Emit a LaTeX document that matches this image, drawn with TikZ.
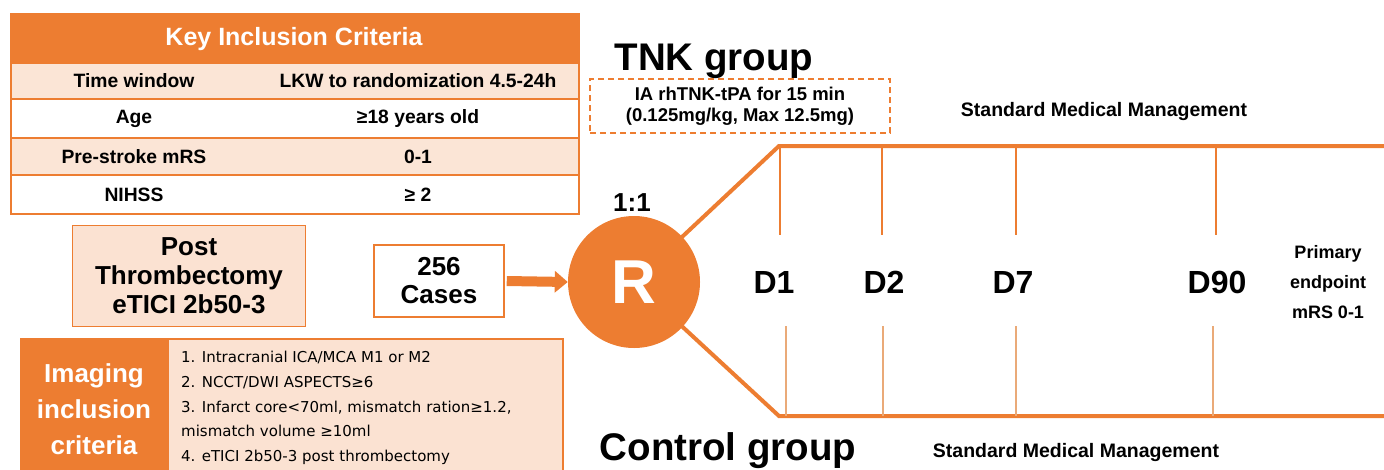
\documentclass[tikz,border=0pt]{standalone}
\usepackage{fontspec}
\setmainfont{Liberation Sans}
\newfontfamily\listfont{DejaVu Sans}
\usetikzlibrary{arrows.meta}
\definecolor{org}{HTML}{ED7D31}
\definecolor{peach}{HTML}{FBE5D6}
\definecolor{peachb}{HTML}{FBE2D2}
\definecolor{ticklight}{HTML}{EAAA78}
\tikzset{
  cell/.style={draw=org, line width=1.5pt, minimum width=568pt, inner sep=0pt, anchor=north west},
  rowtxt/.style={font=\bfseries\fontsize{19.3}{22}\selectfont, inner sep=0pt},
  bigtxt/.style={font=\bfseries\fontsize{38.5}{44}\selectfont, inner sep=0pt},
  dtxt/.style={font=\bfseries\fontsize{32}{36}\selectfont, inner sep=0pt},
  smm/.style={font=\bfseries\fontsize{19.5}{22}\selectfont, inner sep=0pt},
  thick line/.style={draw=org, line width=4pt},
  tickline/.style={draw=org, line width=1.3pt},
  ticklineb/.style={draw=ticklight, line width=1.3pt},
}
\begin{document}
\begin{tikzpicture}[x=1pt,y=-1pt]
\useasboundingbox (0,0) rectangle (1384,469);

% ---------- Key inclusion criteria table ----------
\node[cell, fill=org, minimum height=49pt] (hdr) at (10,13) {};
\node[cell, fill=peach, minimum height=36pt] (r1) at (10,62) {};
\node[cell, fill=white, minimum height=39pt] (r2) at (10,98) {};
\node[cell, fill=peach, minimum height=37pt] (r3) at (10,137) {};
\node[cell, fill=white, minimum height=39pt] (r4) at (10,174) {};
\node[font=\bfseries\fontsize{25}{28}\selectfont, text=white, inner sep=0pt] (hdrt) at (294,39) {Key Inclusion Criteria};
\node[rowtxt] (t1a) at (134,81) {Time window};
\node[rowtxt] (t1b) at (418,81) {LKW to randomization 4.5-24h};
\node[rowtxt] (t2a) at (134,119) {Age};
\node[rowtxt] (t2b) at (418,119) {≥18 years old};
\node[rowtxt] (t3a) at (134,157) {Pre-stroke mRS};
\node[rowtxt] (t3b) at (418,157) {0-1};
\node[rowtxt] (t4a) at (134,195) {NIHSS};
\node[rowtxt] (t4b) at (418,195) {≥ 2};

% ---------- Post thrombectomy ----------
\node[draw=org, line width=1.5pt, fill=peachb, minimum width=233pt, minimum height=101pt,
      align=center, inner sep=0pt, font=\bfseries\fontsize{26}{29}\selectfont] (post) at (189,276)
      {Post\\Thrombectomy\\eTICI 2b50-3};

% ---------- 256 cases ----------
\node[draw=org, line width=1.5pt, fill=white, minimum width=130pt, minimum height=72pt,
      align=center, inner sep=0pt, font=\bfseries\fontsize{26}{28}\selectfont] (cases) at (439,281)
      {256\\Cases};

% ---------- branches (behind circle) ----------
\coordinate (c) at (634,282);
\coordinate (tc) at (779,146);
\coordinate (te) at (1386,146);
\coordinate (bc) at (779,416);
\coordinate (be) at (1386,416);
\draw[thick line] (c) -- (tc) -- (te);
\draw[thick line] (c) -- (bc) -- (be);

% tick lines
\foreach \n/\x in {1/780,2/882,3/1016,4/1216}{
  \coordinate (ta\n) at (\x,146);
  \coordinate (tb\n) at (\x,235);
  \draw[tickline] (ta\n) -- (tb\n);
}
\foreach \n/\x in {1/786,2/883,3/1016,4/1213}{
  \coordinate (ba\n) at (\x,326);
  \coordinate (bb\n) at (\x,416);
  \draw[ticklineb] (ba\n) -- (bb\n);
}

% ---------- R circle ----------
\node[circle, fill=org, minimum size=132pt, inner sep=0pt, text=white,
      font=\bfseries\fontsize{62}{62}\selectfont] (R) at (c) {R};
\draw[draw=org, line width=10pt, -{Triangle[length=13pt,width=21pt]}]
      ([xshift=2pt]cases.east) -- (R.west);

\node[font=\bfseries\fontsize{26}{30}\selectfont, inner sep=0pt] (ratio) at (632,203) {1:1};

% ---------- group titles ----------
\node[bigtxt] (tnk) at (714,61) {TNK group};
\node[bigtxt] (ctrl) at (728,451) {Control group};

\node[draw=org, dashed, dash pattern=on 6pt off 4pt, line width=1.5pt, minimum width=300pt, minimum height=54pt,
      align=center, inner sep=0pt, font=\bfseries\fontsize{18.5}{21}\selectfont] (ia) at (740,106)
      {IA rhTNK-tPA for 15 min\\(0.125mg/kg, Max 12.5mg)};

\node[smm] (smmt) at (1104,111) {Standard Medical Management};
\node[smm] (smmb) at (1076,452) {Standard Medical Management};

% ---------- day labels ----------
\node[dtxt] (d1) at (774,282) {D1};
\node[dtxt] (d2) at (884,282) {D2};
\node[dtxt] (d7) at (1013,282) {D7};
\node[dtxt] (d90) at (1217,282) {D90};
\node[align=center, inner sep=0pt, font=\bfseries\fontsize{18}{30}\selectfont] (pe) at (1328,282)
      {Primary\\endpoint\\mRS 0-1};

% ---------- imaging inclusion criteria ----------
\node[draw=org, line width=1.5pt, fill=peachb, minimum width=395pt, minimum height=140pt,
      anchor=north west, inner sep=0pt] (imgbox) at (167,338) {};
\node[draw=org, line width=1.5pt, fill=org, minimum width=147pt, minimum height=140pt,
      anchor=north west, inner sep=0pt] (imglab) at (20,338) {};
\node[text=white, align=center, inner sep=0pt, font=\bfseries\fontsize{26}{36}\selectfont] (imgt) at (94,409)
      {Imaging\\inclusion\\criteria};
\node[anchor=north west, align=left, inner sep=0pt, font=\listfont\fontsize{15}{24.7}\selectfont] (list) at (181,351)
      {1. Intracranial ICA/MCA M1 or M2\\
       2. NCCT/DWI ASPECTS≥6\\
       3. Infarct core<70ml, mismatch ration≥1.2,\\
       mismatch volume ≥10ml\\
       4. eTICI 2b50-3 post thrombectomy};
\end{tikzpicture}
\end{document}
